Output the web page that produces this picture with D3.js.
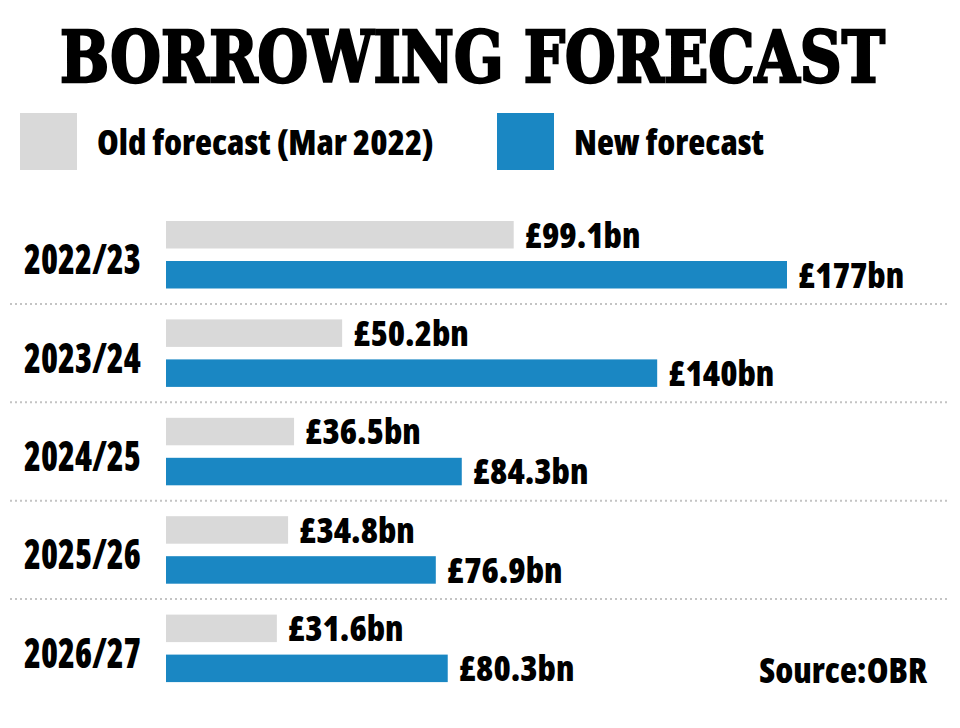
<!DOCTYPE html>
<html>
<head>
<meta charset="utf-8">
<script src="https://cdn.jsdelivr.net/npm/d3@7"></script>
<style>
  html, body { margin: 0; padding: 0; background: #fff; }
  svg { display: block; }
  .lbl { font-family: "Open Sans", sans-serif; font-weight: 800; font-stretch: 75%; fill: #000; }
</style>
</head>
<body>
<svg id="chart" width="960" height="728"></svg>
<script>
const title = "BORROWING FORECAST";
const categories = ["2022/23", "2023/24", "2024/25", "2025/26", "2026/27"];
const seriesNames = ["Old forecast (Mar 2022)", "New forecast"];
const oldForecast = [99.1, 50.2, 36.5, 34.8, 31.6];
const newForecast = [177, 140, 84.3, 76.9, 80.3];
const oldLabels = ["£99.1bn", "£50.2bn", "£36.5bn", "£34.8bn", "£31.6bn"];
const newLabels = ["£177bn", "£140bn", "£84.3bn", "£76.9bn", "£80.3bn"];
const source = "Source:OBR";
const colors = ["#d9d9d9", "#1a87c3"];

const svg = d3.select("#chart");

// Title (slab-like heavy serif, stretched to the reference width)
svg.append("g").attr("transform", "translate(60,82) scale(1,1.12)")
  .append("text")
  .attr("x", 0).attr("y", 0)
  .attr("textLength", 825).attr("lengthAdjust", "spacingAndGlyphs")
  .style("font-family", "'DejaVu Serif Condensed', 'DejaVu Serif', serif")
  .style("font-weight", "bold")
  .style("font-size", "64px")
  .attr("stroke", "#000").attr("stroke-width", 2.2)
  .text(title);

// Legend
const legendX = [20, 497];
seriesNames.forEach((name, i) => {
  svg.append("rect").attr("x", legendX[i]).attr("y", 113).attr("width", 57).attr("height", 57).attr("fill", colors[i]);
  svg.append("text").attr("class", "lbl").attr("x", legendX[i] + 77).attr("y", 155)
    .style("font-size", "35px").text(name);
});

// Scales
const x = d3.scaleLinear().domain([0, 177]).range([166, 787]);
const y = d3.scaleBand().domain(categories).range([203, 695]).paddingInner(0).paddingOuter(0);
const barH = 27.5;
const barOff = [18, 58];

const series = [oldForecast, newForecast];
const labels = [oldLabels, newLabels];

// separators
categories.slice(1).forEach(c => {
  svg.append("line").attr("x1", 10).attr("x2", 950)
    .attr("y1", y(c) + 2.5).attr("y2", y(c) + 2.5)
    .attr("stroke", "#c4c4c4").attr("stroke-width", 2).attr("stroke-dasharray", "2,3");
});

// category labels (condensed further to match the narrow figures)
svg.selectAll("text.cat").data(categories).enter().append("text")
  .attr("class", "lbl cat").attr("x", 24)
  .attr("y", d => y(d) + y.bandwidth() / 2 + 22)
  .style("font-size", "43px").text(d => d)
  .each(function () {
    const w = this.getComputedTextLength();
    d3.select(this).attr("textLength", w * 0.8).attr("lengthAdjust", "spacingAndGlyphs");
  });

series.forEach((vals, s) => {
  svg.selectAll("rect.s" + s).data(vals).enter().append("rect")
    .attr("class", "s" + s)
    .attr("x", x(0))
    .attr("y", (d, i) => y(categories[i]) + barOff[s])
    .attr("width", d => x(d) - x(0))
    .attr("height", barH)
    .attr("fill", colors[s]);
  svg.selectAll("text.v" + s).data(vals).enter().append("text")
    .attr("class", "lbl v" + s)
    .attr("x", d => x(d) + 11)
    .attr("y", (d, i) => y(categories[i]) + barOff[s] + barH - 1)
    .style("font-size", "35px")
    .text((d, i) => labels[s][i]);
});

// Source
svg.append("text").attr("class", "lbl").attr("x", 927).attr("y", 683)
  .attr("text-anchor", "end").style("font-size", "35px").text(source);
</script>
</body>
</html>
